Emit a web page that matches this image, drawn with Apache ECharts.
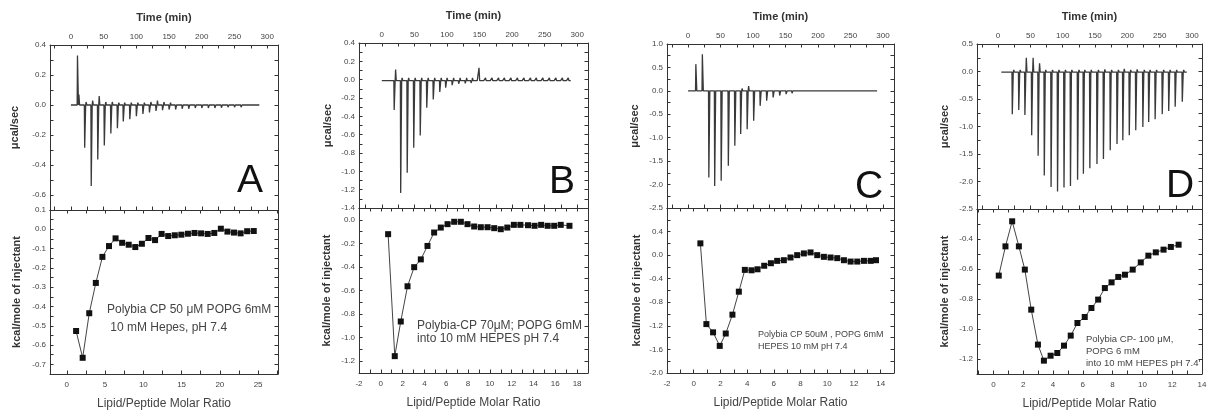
<!DOCTYPE html>
<html><head><meta charset="utf-8">
<script src="https://cdn.jsdelivr.net/npm/echarts@6/dist/echarts.min.js"></script>
<style>html,body{margin:0;padding:0;background:#fff}#c{width:1208px;height:412px}</style>
</head><body><div id="c"></div><script>
// ---------- shared tick labels ----------
const timeLabels = [0, 50, 100, 150, 200, 250, 300];
const timeTicks = [-25, 0, 25, 50, 75, 100, 125, 150, 175, 200, 225, 250, 275, 300];

// ---------- Panel A ----------
const aInjTime = [10, 21, 31, 41, 51, 61, 71, 80, 90, 100, 110, 120, 130, 140, 150, 160, 170, 180, 190, 200, 210, 220, 230, 240, 250, 260, 270, 280];
const aInjPeak = [0.33, -0.285, -0.54, -0.363, -0.27, -0.19, -0.155, -0.11, -0.095, -0.075, -0.06, -0.05, -0.04, -0.035, -0.03, -0.03, -0.025, -0.025, -0.02, -0.02, -0.02, -0.02, -0.018, -0.015, -0.015, -0.015, -0.012, -0.012];
const aInjOver = [0.07, 0.02, 0.03, 0.06, 0.02, 0.02, 0.015, 0.015, 0.015, 0.015, 0.015, 0.02, 0.03, 0.02, 0.015, 0.01, 0.01, 0.01, 0.01, 0.01, 0.01, 0.01, 0.01, 0.01, 0.01, 0.01, 0.01, 0.01];
const aRatio = [1.21, 2.07, 2.93, 3.79, 4.65, 5.51, 6.37, 7.23, 8.09, 8.95, 9.81, 10.67, 11.53, 12.39, 13.25, 14.11, 14.97, 15.83, 16.69, 17.55, 18.41, 19.27, 20.13, 20.99, 21.85, 22.71, 23.57, 24.43];
const aHeat = [-0.527, -0.666, -0.435, -0.278, -0.143, -0.087, -0.047, -0.07, -0.08, -0.092, -0.075, -0.045, -0.056, -0.024, -0.035, -0.031, -0.028, -0.023, -0.019, -0.021, -0.024, -0.019, 0.003, -0.012, -0.017, -0.021, -0.01, -0.009];
const aTopYLabels = [-0.6, -0.4, -0.2, 0, 0.2, 0.4];
const aTopYTicks = [-0.7, -0.6, -0.5, -0.4, -0.3, -0.2, -0.1, 0, 0.1, 0.2, 0.3, 0.4];
const aBotYLabels = [-0.7, -0.6, -0.5, -0.4, -0.3, -0.2, -0.1, 0, 0.1];
const aBotYTicks = [-0.75, -0.7, -0.65, -0.6, -0.55, -0.5, -0.45, -0.4, -0.35, -0.3, -0.25, -0.2, -0.15, -0.1, -0.05, 0, 0.05, 0.1];
const aBotXLabels = [0, 5, 10, 15, 20, 25];
const aBotXTicks = [0, 2.5, 5, 7.5, 10, 12.5, 15, 17.5, 20, 22.5, 25, 27.5];

// ---------- Panel B ----------
const bInjTime = [19, 29, 39, 49, 59, 69, 79, 89, 98, 108, 118, 128, 137, 147, 157, 167, 177, 186, 196, 206, 216, 226, 235, 245, 255, 265, 275, 284];
const bInjPeak = [-0.33, -1.235, -1.016, -0.743, -0.61, -0.306, -0.215, -0.135, -0.087, -0.06, -0.045, -0.04, -0.035, -0.03, -0.03, -0.028, -0.025, -0.025, -0.02, -0.02, -0.02, -0.02, -0.02, -0.018, -0.018, -0.018, -0.015, -0.015];
const bInjOver = [0.11, 0.02, 0.02, 0.02, 0.02, 0.02, 0.02, 0.02, 0.02, 0.02, 0.02, 0.02, 0.02, 0.13, 0.02, 0.02, 0.02, 0.02, 0.02, 0.02, 0.02, 0.02, 0.02, 0.02, 0.02, 0.02, 0.02, 0.02];
const bRatio = [0.67, 1.28, 1.83, 2.45, 3.06, 3.67, 4.28, 4.89, 5.5, 6.12, 6.73, 7.34, 7.95, 8.56, 9.17, 9.79, 10.4, 11.0, 11.6, 12.2, 12.8, 13.5, 14.1, 14.7, 15.3, 15.9, 16.5, 17.3];
const bHeat = [-0.122, -1.157, -0.863, -0.564, -0.402, -0.336, -0.222, -0.108, -0.066, -0.037, -0.017, -0.017, -0.037, -0.057, -0.063, -0.063, -0.071, -0.08, -0.066, -0.043, -0.043, -0.046, -0.051, -0.043, -0.051, -0.051, -0.043, -0.051];
const bTopYLabels = [-1.4, -1.2, -1.0, -0.8, -0.6, -0.4, -0.2, 0, 0.2, 0.4];
const bTopYTicks = [-1.4, -1.3, -1.2, -1.1, -1.0, -0.9, -0.8, -0.7, -0.6, -0.5, -0.4, -0.3, -0.2, -0.1, 0, 0.1, 0.2, 0.3, 0.4];
const bBotYLabels = [-1.2, -1.0, -0.8, -0.6, -0.4, -0.2, 0];
const bBotYTicks = [-1.3, -1.2, -1.1, -1.0, -0.9, -0.8, -0.7, -0.6, -0.5, -0.4, -0.3, -0.2, -0.1, 0, 0.1];
const bBotXLabels = [-2, 0, 2, 4, 6, 8, 10, 12, 14, 16, 18];
const bBotXTicks = [-2, -1, 0, 1, 2, 3, 4, 5, 6, 7, 8, 9, 10, 11, 12, 13, 14, 15, 16, 17, 18, 19];

// ---------- Panel C ----------
const cInjTime = [12, 22, 32, 41, 51, 62, 72, 81, 91, 101, 111, 121, 131, 141, 151, 160, 170, 180, 190, 200, 210, 220, 230, 240, 250, 259, 269, 279];
const cInjPeak = [0.57, 0.78, -1.85, -2.03, -1.92, -1.6, -1.17, -0.92, -0.82, -0.64, -0.32, -0.21, -0.14, -0.1, -0.07, -0.05, -0.04, -0.035, -0.03, -0.03, -0.025, -0.025, -0.02, -0.02, -0.02, -0.02, -0.02, -0.02];
const cInjOver = [0, 0, 0.02, 0.02, 0.02, 0.02, 0.02, 0.05, 0.1, 0.03, 0.02, 0.02, 0.02, 0.01, 0.01, 0.01, 0.01, 0.01, 0.01, 0.01, 0.01, 0.01, 0.01, 0.01, 0.01, 0.01, 0.01, 0.01];
const cRatio = [0.5, 0.95, 1.45, 1.95, 2.4, 2.9, 3.38, 3.83, 4.33, 4.78, 5.28, 5.78, 6.25, 6.75, 7.25, 7.75, 8.25, 8.75, 9.25, 9.75, 10.25, 10.75, 11.25, 11.75, 12.25, 12.75, 13.25, 13.65];
const cHeat = [0.2, -1.17, -1.31, -1.54, -1.33, -1.01, -0.62, -0.25, -0.257, -0.24, -0.18, -0.137, -0.097, -0.086, -0.04, 0.0, 0.029, 0.046, 0.0, -0.029, -0.04, -0.051, -0.086, -0.109, -0.109, -0.097, -0.097, -0.086];
const cTopYLabels = [-2.5, -2.0, -1.5, -1.0, -0.5, 0, 0.5, 1.0];
const cTopYTicks = [-2.5, -2.25, -2.0, -1.75, -1.5, -1.25, -1.0, -0.75, -0.5, -0.25, 0, 0.25, 0.5, 0.75, 1.0];
const cBotYLabels = [-2.0, -1.6, -1.2, -0.8, -0.4, 0, 0.4];
const cBotYTicks = [-2.0, -1.8, -1.6, -1.4, -1.2, -1.0, -0.8, -0.6, -0.4, -0.2, 0, 0.2, 0.4, 0.6, 0.8];
const cBotXLabels = [-2, 0, 2, 4, 6, 8, 10, 12, 14];
const cBotXTicks = [-2, -1, 0, 1, 2, 3, 4, 5, 6, 7, 8, 9, 10, 11, 12, 13, 14, 15];

// ---------- Panel D ----------
const dInjTime = [22, 32, 41.5, 52, 62, 71.5, 82, 92, 102, 112, 123, 132, 142, 153, 163, 173.5, 184, 193, 203, 213, 224, 233, 243, 254, 264, 274, 285];
const dInjPeak = [-0.775, -0.70, -0.79, -1.16, -1.53, -1.89, -2.1, -2.18, -2.11, -2.08, -1.97, -1.86, -1.76, -1.68, -1.59, -1.43, -1.32, -1.25, -1.16, -1.07, -1.01, -0.92, -0.87, -0.775, -0.72, -0.64, -0.55];
const dInjOver = [0.03, 0.03, 0.25, 0.25, 0.15, 0.03, 0.03, 0.03, 0.03, 0.03, 0.03, 0.03, 0.03, 0.03, 0.04, 0.03, 0.03, 0.05, 0.03, 0.04, 0.03, 0.03, 0.03, 0.03, 0.03, 0.03, 0.03];
const dRatio = [0.36, 0.81, 1.26, 1.71, 2.11, 2.54, 2.99, 3.39, 3.84, 4.29, 4.74, 5.19, 5.64, 6.13, 6.58, 7.03, 7.48, 7.93, 8.38, 8.83, 9.35, 9.89, 10.4, 10.9, 11.42, 11.91, 12.43];
const dHeat = [-0.644, -0.449, -0.282, -0.449, -0.604, -0.871, -1.104, -1.211, -1.178, -1.16, -1.111, -1.044, -0.96, -0.92, -0.86, -0.804, -0.727, -0.689, -0.653, -0.638, -0.604, -0.556, -0.511, -0.489, -0.471, -0.453, -0.438];
const dTopYLabels = [-2.5, -2.0, -1.5, -1.0, -0.5, 0, 0.5];
const dTopYTicks = [-2.5, -2.25, -2.0, -1.75, -1.5, -1.25, -1.0, -0.75, -0.5, -0.25, 0, 0.25, 0.5];
const dBotYLabels = [-1.2, -1.0, -0.8, -0.6, -0.4];
const dBotYTicks = [-1.3, -1.2, -1.1, -1.0, -0.9, -0.8, -0.7, -0.6, -0.5, -0.4, -0.3, -0.2];
const dBotXLabels = [0, 2, 4, 6, 8, 10, 12, 14];
const dBotXTicks = [-1, 0, 1, 2, 3, 4, 5, 6, 7, 8, 9, 10, 11, 12, 13, 14];

const notes = {
  A: ['Polybia CP 50 \u03bcM POPG 6mM', ' 10 mM Hepes, pH 7.4'],
  B: ['Polybia-CP 70\u03bcM; POPG 6mM', 'into 10 mM HEPES pH 7.4'],
  C: ['Polybia CP 50uM , POPG 6mM', 'HEPES 10 mM pH 7.4'],
  D: ['Polybia CP- 100 \u03bcM,', 'POPG 6 mM', 'into 10 mM HEPES pH 7.4\'']
};

// ---------- layout (positions / styles only) ----------
const FONT = '"Liberation Sans", Arial, sans-serif';
const INK = '#333';
const panels = [
  {k:'A', L:50, R:278, T:45, M:210, B:374, time:[-32,316.5], base:0, t0:0, t1:288,
   inj:[aInjTime,aInjPeak,aInjOver], pts:[aRatio,aHeat],
   topY:[-0.7,0.4], topYT:aTopYTicks, topYL:aTopYLabels,
   botY:[-0.75,0.1], botYT:aBotYTicks, botYL:aBotYLabels,
   botX:[-2.2,27.6], botXT:aBotXTicks, botXL:aBotXLabels,
   yGapT:30, yGapB:28, letter:[250,181], note:[107,310,18,12]},
  {k:'B', L:359, R:588, T:43, M:208, B:373, time:[-35,316.5], base:-0.01, t0:0, t1:290,
   inj:[bInjTime,bInjPeak,bInjOver], pts:[bRatio,bHeat],
   topY:[-1.4,0.4], topYT:bTopYTicks, topYL:bTopYLabels,
   botY:[-1.3,0.1], botYT:bBotYTicks, botYL:bBotYLabels,
   botX:[-2,19], botXT:bBotXTicks, botXL:bBotXLabels,
   yGapT:26, yGapB:27, letter:[562,182], note:[417,326,12.5,12]},
  {k:'C', L:667, R:894, T:44, M:208, B:373, time:[-32.4,317], base:0, t0:0, t1:291,
   inj:[cInjTime,cInjPeak,cInjOver], pts:[cRatio,cHeat],
   topY:[-2.5,1.0], topYT:cTopYTicks, topYL:cTopYLabels,
   botY:[-2.0,0.8], botYT:cBotYTicks, botYL:cBotYLabels,
   botX:[-2,15], botXT:cBotXTicks, botXL:cBotXLabels,
   yGapT:27, yGapB:25, letter:[869,187], note:[758,335,12,9]},
  {k:'D', L:977, R:1202, T:44, M:209, B:374, time:[-32.6,315.5], base:-0.01, t0:5, t1:292,
   inj:[dInjTime,dInjPeak,dInjOver], pts:[dRatio,dHeat],
   topY:[-2.5,0.5], topYT:dTopYTicks, topYL:dTopYLabels,
   botY:[-1.3,-0.2], botYT:dBotYTicks, botYL:dBotYLabels,
   botX:[-1.1,14], botXT:dBotXTicks, botXL:dBotXLabels,
   yGapT:27, yGapB:27, letter:[1180,186], note:[1086,339,12,9.5]}
];

function trace(times, peaks, overs, base, t0, t1) {
  const d = [[t0, base]];
  times.forEach((t, i) => {
    d.push([t - 0.5, base], [t, peaks[i]], [t + 1.5, base]);
    if (overs[i]) d.push([t + 2.2, overs[i]], [t + 3.2, base]);
  });
  d.push([t1, base]);
  return d;
}

const grids = [], xAxes = [], yAxes = [], series = [], graphics = [];
const nameStyle = {fontSize:11, fontWeight:'bold', color:INK, fontFamily:FONT};

function axis(gridIndex, position, range, ticks, labels, dec, name, nameGap, nameSt, margin) {
  const a = {
    type:'value', gridIndex, position, min:range[0], max:range[1], scale:true,
    splitLine:{show:false},
    axisLine:{show:true, onZero:false, lineStyle:{color:INK, width:1}},
    axisTick:{show:true, inside:true, length:3.5, customValues:ticks, lineStyle:{color:INK, width:1}},
    axisLabel: labels ? {show:true, customValues:labels, fontSize:8, color:'#444', fontFamily:FONT, margin: margin || 4,
      formatter: v => dec ? (+v).toFixed(dec) : String(Math.round(v))} : {show:false}
  };
  if (name) Object.assign(a, {name, nameLocation:'middle', nameGap, nameTextStyle:nameSt || nameStyle});
  return a;
}

panels.forEach(p => {
  const gT = grids.length;
  grids.push({left:p.L, top:p.T, width:p.R - p.L, height:p.M - p.T, containLabel:false, outerBoundsMode:'none'});
  const gB = grids.length;
  grids.push({left:p.L, top:p.M, width:p.R - p.L, height:p.B - p.M, containLabel:false, outerBoundsMode:'none'});

  // top (raw thermogram)
  const xt = xAxes.push(axis(gT, 'top', p.time, timeTicks, timeLabels, 0, 'Time (min)', 22)) - 1;
  xAxes.push(axis(gT, 'bottom', p.time, timeTicks, null));
  const yt = yAxes.push(axis(gT, 'left', p.topY, p.topYT, p.topYL, 1, '\u03bccal/sec', p.yGapT)) - 1;
  yAxes.push(axis(gT, 'right', p.topY, p.topYT, null));

  // bottom (integrated heats)
  const xb = xAxes.push(axis(gB, 'bottom', p.botX, p.botXT, p.botXL, 0, 'Lipid/Peptide Molar Ratio', 24,
    {fontSize:12, color:'#444', fontFamily:FONT}, 7)) - 1;
  xAxes.push(axis(gB, 'top', p.botX, p.botXT, null));
  const yb = yAxes.push(axis(gB, 'left', p.botY, p.botYT, p.botYL, 1, 'kcal/mole of injectant', p.yGapB)) - 1;
  yAxes.push(axis(gB, 'right', p.botY, p.botYT, null));

  series.push({
    type:'line', xAxisIndex:xt, yAxisIndex:yt, showSymbol:false, symbol:'none', clip:true,
    data: trace(p.inj[0], p.inj[1], p.inj[2], p.base, p.t0, p.t1),
    lineStyle:{color:'#3a3a3a', width:1.3}, silent:true
  });
  series.push({
    type:'line', xAxisIndex:xb, yAxisIndex:yb, symbol:'rect', symbolSize:6, clip:false,
    data: p.pts[0].map((x, i) => [x, p.pts[1][i]]),
    lineStyle:{color:'#444', width:1}, itemStyle:{color:'#111'}, silent:true
  });

  graphics.push({type:'text', x:p.letter[0], y:p.letter[1], z:10,
    style:{text:p.k, fontSize:39, fontFamily:FONT, fill:'#111', align:'center', verticalAlign:'middle'}});
  notes[p.k].forEach((line, i) => {
    graphics.push({type:'text', x:p.note[0], y:p.note[1] + i * p.note[2], z:10,
      style:{text:line, fontSize:p.note[3], fontFamily:FONT, fill:'#444', align:'left', verticalAlign:'middle'}});
  });
});

const chart = echarts.init(document.getElementById('c'), null, {renderer:'canvas', width:1208, height:412});
chart.setOption({
  animation:false, backgroundColor:'#fff',
  grid:grids, xAxis:xAxes, yAxis:yAxes, series, graphic:graphics
});
</script></body></html>
